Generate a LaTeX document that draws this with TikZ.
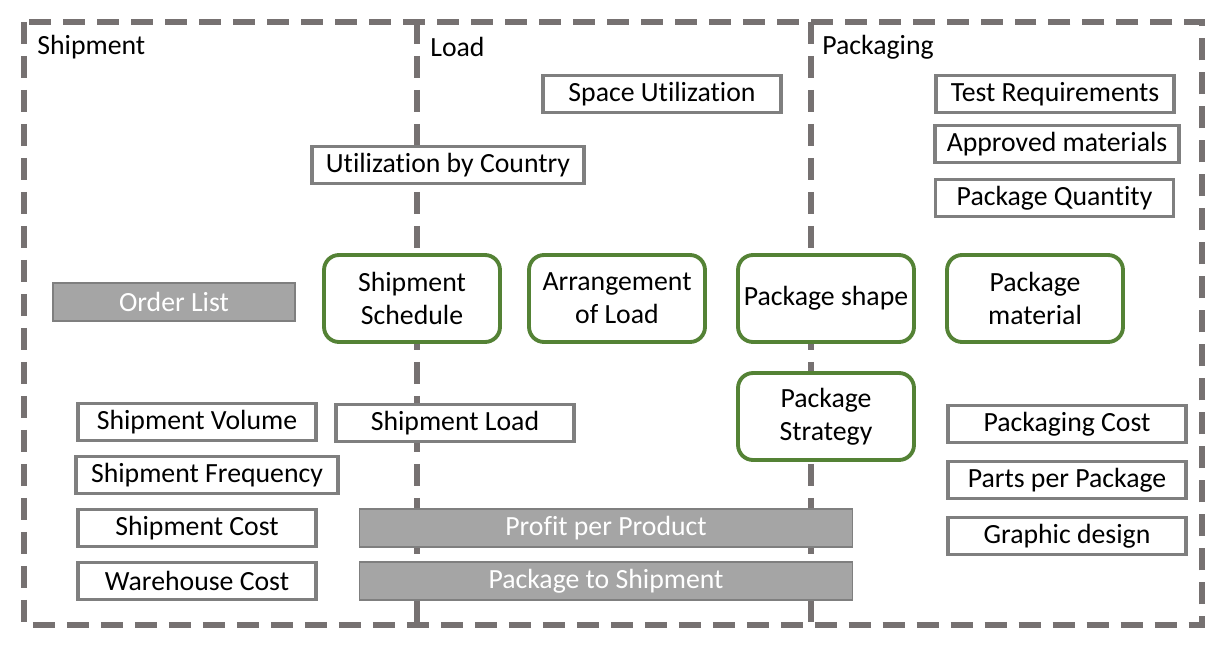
\documentclass[tikz,border=0pt]{standalone}
\usepackage{fontspec}
\setmainfont{Carlito}[Ligatures=NoCommon]
\usepackage{tikz}
\usetikzlibrary{positioning}
\usepackage{xcolor}
\definecolor{framegray}{HTML}{767171}
\definecolor{boxgray}{HTML}{7F7F7F}
\definecolor{fillgray}{HTML}{A5A5A5}
\definecolor{leafgreen}{HTML}{548235}

\begin{document}
\begin{tikzpicture}[
    x=0.02cm, y=-0.02cm,
    every node/.style={font=\fontsize{15.8}{19}\selectfont, align=center, inner sep=0pt},
    panel/.style={draw=framegray, line width=3pt, dash pattern=on 0.44cm off 0.24cm},
    factor/.style={draw=boxgray, line width=2.2pt, fill=white, minimum width=4.76cm, minimum height=0.74cm},
    shared/.style={draw=boxgray, line width=0.6pt, fill=fillgray, text=white, minimum width=4.84cm, minimum height=0.76cm},
    core/.style={draw=leafgreen, line width=2.2pt, rounded corners=0.3cm, fill=white, minimum width=3.52cm, minimum height=1.74cm}
]
\useasboundingbox (0,0) rectangle (1229,652);

% Panels
\draw[panel] (24,22) rectangle (1202,625);
\draw[panel] (417,22) -- (417,625);
\draw[panel] (811,22) -- (811,625);
\node[anchor=west] (shiplabel) at (37,47) {Shipment};
\node[anchor=west] (loadlabel) at (430,47) {Load};
\node[anchor=west] (packlabel) at (822,47) {Packaging};

% Load
\node[factor] (space) at (662,94) {Space Utilization};
\node[factor, minimum width=5.44cm] (country) at (448,165) {Utilization by Country};
\node[factor] (shipload) at (455,423) {Shipment Load};

% Packaging
\node[factor] (test) at (1055,94) {Test Requirements};
\node[factor, minimum width=4.88cm] (approved) at (1057,144) {Approved materials};
\node[factor] (quantity) at (1054.5,198) {Package Quantity};
\node[factor] (packcost) at (1067,424) {Packaging Cost};
\node[factor] (parts) at (1067,480) {Parts per Package};
\node[factor] (graphic) at (1067,536) {Graphic design};

% Shipment
\node[shared] (order) at (174,302) {Order List};
\node[factor] (volume) at (197,422) {Shipment Volume};
\node[factor, minimum width=5.24cm] (frequency) at (207,475) {Shipment Frequency};
\node[factor] (shipcost) at (197,528) {Shipment Cost};
\node[factor] (warehouse) at (197,581) {Warehouse Cost};

% Decisions
\node[core] (schedule) at (412,298.5) {Shipment\\Schedule};
\node[core] (arrange) at (617,298.5) {Arrangement\\of Load};
\node[core] (shape) at (826,298.5) {Package shape};
\node[core] (material) at (1035,298.5) {Package\\material};
\node[core] (strategy) at (826,416.5) {Package\\Strategy};

% Across panels
\node[shared, minimum width=9.88cm] (profit) at (606,528) {Profit per Product};
\node[shared, minimum width=9.88cm] (topship) at (606,581) {Package to Shipment};

\end{tikzpicture}
\end{document}
